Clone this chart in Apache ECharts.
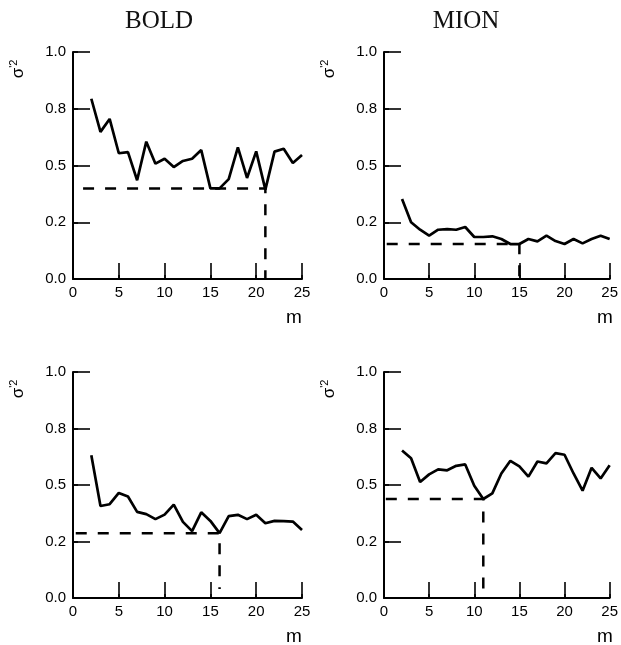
<!DOCTYPE html>
<html>
<head>
<meta charset="utf-8">
<script src="https://cdn.jsdelivr.net/npm/echarts@6/dist/echarts.min.js"></script>
<style>
html,body{margin:0;padding:0;background:#fff;}
#chart{width:621px;height:645px;}
</style>
</head>
<body>
<div id="chart"></div>
<script>
// ---- data ----
const mValues = [2,3,4,5,6,7,8,9,10,11,12,13,14,15,16,17,18,19,20,21,22,23,24,25];
const boldTop = [0.794,0.648,0.705,0.554,0.559,0.435,0.605,0.508,0.530,0.493,0.520,0.530,0.568,0.399,0.399,0.440,0.580,0.445,0.562,0.394,0.561,0.574,0.511,0.546];
const mionTop = [0.352,0.250,0.217,0.191,0.217,0.220,0.217,0.229,0.185,0.185,0.188,0.176,0.154,0.154,0.176,0.166,0.191,0.167,0.154,0.176,0.157,0.176,0.191,0.176];
const boldBottom = [0.632,0.407,0.415,0.465,0.449,0.381,0.371,0.349,0.369,0.413,0.337,0.296,0.379,0.341,0.287,0.362,0.368,0.349,0.368,0.331,0.341,0.340,0.338,0.301];
const mionBottom = [0.653,0.618,0.513,0.547,0.569,0.565,0.585,0.591,0.497,0.438,0.463,0.551,0.607,0.582,0.537,0.604,0.596,0.641,0.634,0.551,0.475,0.576,0.529,0.587];
// dashed guides: [startM, level, atM, endLevel]
const guideBoldTop = [1.1, 0.399, 21, 0];
const guideMionTop = [0.3, 0.154, 15, 0];
const guideBoldBottom = [0.3, 0.287, 16, 0.04];
const guideMionBottom = [0.2, 0.438, 11, 0];
const yTickValues = [0, 0.25, 0.5, 0.75, 1.0];
const yTickLabels = ['0.0', '0.2', '0.5', '0.8', '1.0'];
const xTickLabels = ['0', '5', '10', '15', '20', '25'];
const titles = ['BOLD', 'MION'];
const yName = 'σ';
const xName = 'm';

// ---- layout ----
const grids = [
  {left: 73, top: 52, width: 229, height: 227},
  {left: 384, top: 52, width: 229, height: 227},
  {left: 73, top: 372, width: 229, height: 226},
  {left: 384, top: 372, width: 229, height: 226}
];
const seriesData = [boldTop, mionTop, boldBottom, mionBottom];
const guides = [guideBoldTop, guideMionTop, guideBoldBottom, guideMionBottom];
const labelFont = {color: '#000', fontFamily: 'Liberation Sans', fontSize: 15};

const xAxes = [], yAxes = [], series = [];
grids.forEach((g, i) => {
  xAxes.push({
    gridIndex: i, type: 'value', min: 0, max: 25, interval: 5,
    axisLine: {show: true, lineStyle: {color: '#000', width: 2}},
    axisTick: {show: true, inside: true, length: 16, lineStyle: {color: '#000', width: 1.6}},
    axisLabel: Object.assign({margin: 6, formatter: v => xTickLabels[Math.round(v / 5)]}, labelFont),
    splitLine: {show: false}
  });
  xAxes.push({
    gridIndex: i, type: 'value', min: 0, max: 25, interval: 5,
    axisLine: {show: false}, axisLabel: {show: false}, splitLine: {show: false},
    axisTick: {show: true, inside: false, length: 4, lineStyle: {color: '#000', width: 1.6}}
  });
  yAxes.push({
    gridIndex: i, type: 'value', min: 0, max: 1, interval: 0.25,
    axisLine: {show: true, lineStyle: {color: '#000', width: 2}},
    axisTick: {show: true, inside: true, length: 17, lineStyle: {color: '#000', width: 1.6}},
    axisLabel: Object.assign({margin: 7, formatter: v => {
      const k = yTickValues.findIndex(t => Math.abs(t - v) < 1e-6);
      return k >= 0 ? yTickLabels[k] : '';
    }}, labelFont),
    splitLine: {show: false}
  });
  yAxes.push({
    gridIndex: i, type: 'value', min: 0, max: 1, interval: 0.25,
    axisLine: {show: false}, axisLabel: {show: false}, splitLine: {show: false},
    axisTick: {show: true, inside: false, length: 5, lineStyle: {color: '#000', width: 1.6}}
  });
  series.push({
    type: 'line', xAxisIndex: 2 * i, yAxisIndex: 2 * i,
    data: mValues.map((m, k) => [m, seriesData[i][k]]),
    showSymbol: false, symbol: 'none', silent: true,
    lineStyle: {color: '#000', width: 2.7}
  });
  const gd = guides[i];
  series.push({
    type: 'line', xAxisIndex: 2 * i, yAxisIndex: 2 * i,
    data: [[gd[0], gd[1]], [gd[2], gd[1]], [gd[2], gd[3]]],
    showSymbol: false, symbol: 'none', silent: true,
    lineStyle: {color: '#000', width: 2.5, type: [11, 11]}
  });
});

const graphic = [];
[[159, 21, titles[0]], [466, 21, titles[1]]].forEach(t => {
  graphic.push({type: 'text', x: t[0], y: t[1], style: {
    text: t[2], align: 'center', verticalAlign: 'middle',
    font: '25px "Liberation Serif"', fill: '#111'
  }});
});
grids.forEach((g, i) => {
  graphic.push({type: 'text', x: g.left - 55, y: g.top + 17, rotation: Math.PI / 2, style: {
    text: '{a|' + yName + '}{b|\'2}', align: 'center', verticalAlign: 'middle',
    rich: {
      a: {fontFamily: 'Liberation Sans', fontSize: 17, fill: '#000', color: '#000'},
      b: {fontFamily: 'Liberation Sans', fontSize: 11, fill: '#000', color: '#000', padding: [0, 0, 9, 0]}
    }
  }});
  graphic.push({type: 'text', x: g.left + g.width - 8, y: g.top + g.height + 39, style: {
    text: xName, align: 'center', verticalAlign: 'middle',
    font: '19px "Liberation Sans"', fill: '#000'
  }});
});

const chart = echarts.init(document.getElementById('chart'), null, {renderer: 'canvas'});
chart.setOption({
  backgroundColor: '#fff',
  animation: false,
  grid: grids.map(g => Object.assign({containLabel: false}, g)),
  xAxis: xAxes,
  yAxis: yAxes,
  series: series,
  graphic: graphic
});
</script>
</body>
</html>
